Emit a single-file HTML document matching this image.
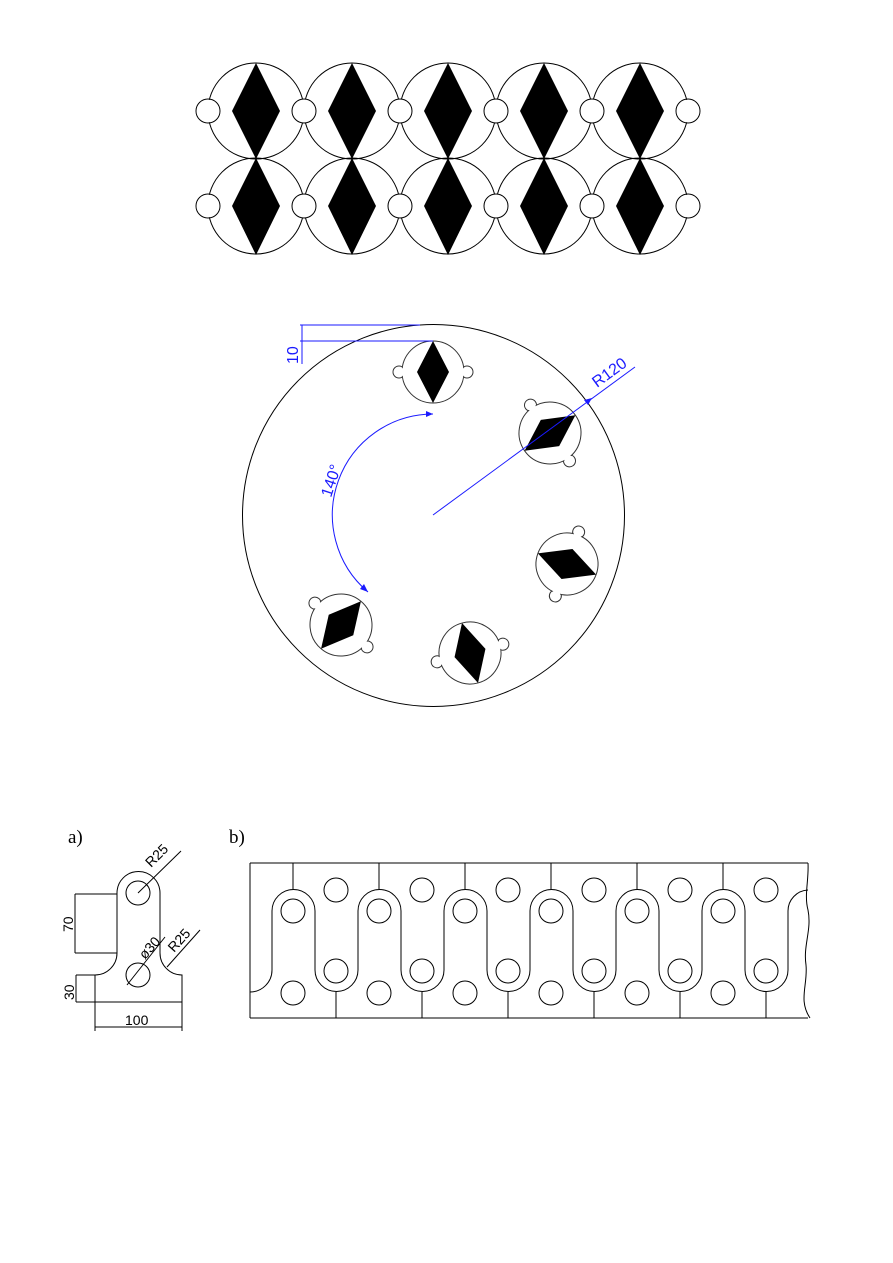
<!DOCTYPE html>
<html><head><meta charset="utf-8"><style>
html,body{margin:0;padding:0;background:#fff;}
svg{display:block;}
</style></head><body>
<svg width="893" height="1263" viewBox="0 0 893 1263" xmlns="http://www.w3.org/2000/svg">
<defs>
<g id="tile">
  <circle cx="0" cy="0" r="48" fill="none" stroke="#000" stroke-width="1"/>
</g>
<g id="unit">
  <circle cx="-34" cy="0" r="6" fill="#fff" stroke="#333" stroke-width="1"/>
  <circle cx="34" cy="0" r="6" fill="#fff" stroke="#333" stroke-width="1"/>
  <circle cx="0" cy="0" r="31" fill="#fff" stroke="#333" stroke-width="1"/>
  <circle cx="-34" cy="0" r="5.2" fill="#fff"/>
  <circle cx="34" cy="0" r="5.2" fill="#fff"/>
  <polygon points="0,-31 16,0 0,31 -16,0" fill="#000"/>
</g>
</defs>

<!-- top pattern -->
<g fill="none" stroke="#000" stroke-width="1">
  <circle cx="208" cy="111" r="12" fill="#fff"/>
  <circle cx="208" cy="206" r="12" fill="#fff"/>
  <circle cx="688" cy="111" r="12" fill="#fff"/>
  <circle cx="688" cy="206" r="12" fill="#fff"/>
</g>
<g>
  <use href="#tile" x="256" y="111"/><use href="#tile" x="352" y="111"/><use href="#tile" x="448" y="111"/><use href="#tile" x="544" y="111"/><use href="#tile" x="640" y="111"/>
  <use href="#tile" x="256" y="206"/><use href="#tile" x="352" y="206"/><use href="#tile" x="448" y="206"/><use href="#tile" x="544" y="206"/><use href="#tile" x="640" y="206"/>
</g>
<g fill="#fff">
  <circle cx="208" cy="111" r="11.3"/><circle cx="208" cy="206" r="11.3"/>
  <circle cx="688" cy="111" r="11.3"/><circle cx="688" cy="206" r="11.3"/>
</g>
<g fill="#fff" stroke="#000" stroke-width="1">
  <circle cx="304" cy="111" r="12"/><circle cx="400" cy="111" r="12"/><circle cx="496" cy="111" r="12"/><circle cx="592" cy="111" r="12"/>
  <circle cx="304" cy="206" r="12"/><circle cx="400" cy="206" r="12"/><circle cx="496" cy="206" r="12"/><circle cx="592" cy="206" r="12"/>
</g>
<g fill="#000">
  <polygon points="256,63 280,111 256,159 232,111"/>
  <polygon points="352,63 376,111 352,159 328,111"/>
  <polygon points="448,63 472,111 448,159 424,111"/>
  <polygon points="544,63 568,111 544,159 520,111"/>
  <polygon points="640,63 664,111 640,159 616,111"/>
  <polygon points="256,158 280,206 256,255 232,206"/>
  <polygon points="352,158 376,206 352,255 328,206"/>
  <polygon points="448,158 472,206 448,255 424,206"/>
  <polygon points="544,158 568,206 544,255 520,206"/>
  <polygon points="640,158 664,206 640,255 616,206"/>
</g>

<!-- big circle -->
<circle cx="433.5" cy="515.5" r="191" fill="none" stroke="#000" stroke-width="1"/>
<use href="#unit" transform="translate(433,372) rotate(0)"/>
<use href="#unit" transform="translate(550,433) rotate(55)"/>
<use href="#unit" transform="translate(567,564) rotate(110)"/>
<use href="#unit" transform="translate(470,653) rotate(165)"/>
<use href="#unit" transform="translate(341,625) rotate(220)"/>

<!-- blue dims -->
<g stroke="#1a1aff" stroke-width="1" fill="none">
  <line x1="300" y1="325" x2="420" y2="325"/>
  <line x1="300" y1="341" x2="433" y2="341"/>
  <line x1="302" y1="325" x2="302" y2="364"/>
  <line x1="433" y1="515" x2="635" y2="367"/>
  <path d="M433,414 A101,101 0 0 0 368,592"/>
</g>
<g fill="#1a1aff">
  <polygon points="433,414 426,411 426,417"/>
  <polygon points="368,592 360,589 364,584"/>
  <polygon points="592,398 584,400 588,405"/>
</g>
<g fill="#1a1aff" font-family="Liberation Sans, sans-serif" font-size="16">
  <text transform="translate(298,364) rotate(-90)">10</text>
  <text transform="translate(597,388) rotate(-36)">R120</text>
  <text transform="translate(331,498) rotate(-72)">140°</text>
</g>

<!-- labels -->
<g font-family="Liberation Serif, serif" font-size="19" fill="#000">
  <text x="68" y="843">a)</text>
  <text x="229" y="843">b)</text>
</g>

<!-- part a -->
<g fill="none" stroke="#000" stroke-width="1">
  <path d="M95,1002 L95,975 A22,22 0 0 0 117,953 L117,893 A21.5,21.5 0 0 1 160,893 L160,953 A22,22 0 0 0 182,975 L182,1002"/>
  <circle cx="138" cy="893" r="12"/>
  <circle cx="138" cy="975" r="12"/>
  <line x1="75" y1="894" x2="117" y2="894"/>
  <line x1="75" y1="953" x2="117" y2="953"/>
  <line x1="75" y1="894" x2="75" y2="953"/>
  <line x1="76" y1="1002" x2="182" y2="1002"/>
  <line x1="76" y1="975" x2="95" y2="975"/>
  <line x1="76" y1="975" x2="76" y2="1002"/>
  <line x1="95" y1="1002" x2="95" y2="1031"/>
  <line x1="182" y1="1002" x2="182" y2="1031"/>
  <line x1="95" y1="1027" x2="182" y2="1027"/>
  <line x1="138" y1="893" x2="181" y2="851"/>
  <line x1="127" y1="985" x2="165" y2="937"/>
  <line x1="167" y1="967" x2="200" y2="930"/>
</g>
<g font-family="Liberation Sans, sans-serif" font-size="14" fill="#000">
  <text transform="translate(73,932) rotate(-90)">70</text>
  <text transform="translate(74,1000) rotate(-90)">30</text>
  <text x="125" y="1025">100</text>
  <text transform="translate(151,868) rotate(-45)">R25</text>
  <text transform="translate(145,960) rotate(-48)">ø30</text>
  <text transform="translate(174,953) rotate(-48)">R25</text>
</g>

<!-- part b -->
<g fill="none" stroke="#000" stroke-width="1">
  <line x1="250" y1="863" x2="808" y2="863"/>
  <line x1="250" y1="1018" x2="808" y2="1018"/>
  <line x1="250" y1="863" x2="250" y2="1018"/>
  <path d="M808,863 C809,880 804,895 808,910 C812,930 803,945 806,965 C808,985 798,1000 810,1018"/>
  <path d="M250,992 A22,22 0 0 0 272,970 L272,911
    A21.5,21.5 0 0 1 315,911 L315,970 A21.5,21.5 0 0 0 358,970 L358,911
    A21.5,21.5 0 0 1 401,911 L401,970 A21.5,21.5 0 0 0 444,970 L444,911
    A21.5,21.5 0 0 1 487,911 L487,970 A21.5,21.5 0 0 0 530,970 L530,911
    A21.5,21.5 0 0 1 573,911 L573,970 A21.5,21.5 0 0 0 616,970 L616,911
    A21.5,21.5 0 0 1 659,911 L659,970 A21.5,21.5 0 0 0 702,970 L702,911
    A21.5,21.5 0 0 1 745,911 L745,970 A21.5,21.5 0 0 0 788,970 L788,911
    A21,21 0 0 1 808,890"/>
  <g>
    <line x1="293" y1="863" x2="293" y2="889"/><line x1="379" y1="863" x2="379" y2="889"/><line x1="465" y1="863" x2="465" y2="889"/>
    <line x1="551" y1="863" x2="551" y2="889"/><line x1="637" y1="863" x2="637" y2="889"/><line x1="723" y1="863" x2="723" y2="889"/>
    <line x1="336" y1="992" x2="336" y2="1018"/><line x1="422" y1="992" x2="422" y2="1018"/><line x1="508" y1="992" x2="508" y2="1018"/>
    <line x1="594" y1="992" x2="594" y2="1018"/><line x1="680" y1="992" x2="680" y2="1018"/><line x1="766" y1="992" x2="766" y2="1018"/>
  </g>
  <g>
    <circle cx="293" cy="911" r="12"/><circle cx="379" cy="911" r="12"/><circle cx="465" cy="911" r="12"/>
    <circle cx="551" cy="911" r="12"/><circle cx="637" cy="911" r="12"/><circle cx="723" cy="911" r="12"/>
    <circle cx="336" cy="971" r="12"/><circle cx="422" cy="971" r="12"/><circle cx="508" cy="971" r="12"/>
    <circle cx="594" cy="971" r="12"/><circle cx="680" cy="971" r="12"/><circle cx="766" cy="971" r="12"/>
    <circle cx="336" cy="890" r="12"/><circle cx="422" cy="890" r="12"/><circle cx="508" cy="890" r="12"/>
    <circle cx="594" cy="890" r="12"/><circle cx="680" cy="890" r="12"/><circle cx="766" cy="890" r="12"/>
    <circle cx="293" cy="993" r="12"/><circle cx="379" cy="993" r="12"/><circle cx="465" cy="993" r="12"/>
    <circle cx="551" cy="993" r="12"/><circle cx="637" cy="993" r="12"/><circle cx="723" cy="993" r="12"/>
  </g>
</g>
</svg>
</body></html>
